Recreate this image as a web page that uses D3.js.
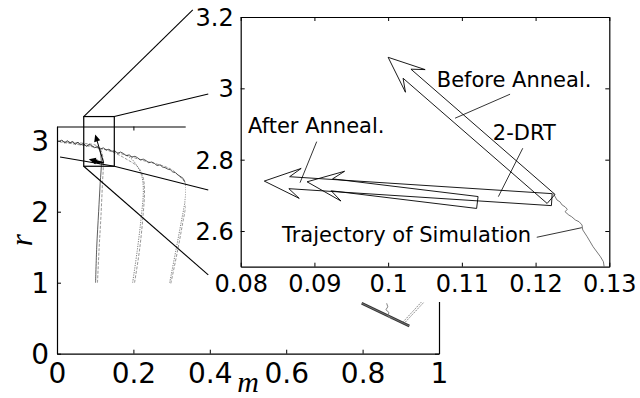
<!DOCTYPE html>
<html>
<head>
<meta charset="utf-8">
<script src="https://cdn.jsdelivr.net/npm/d3@7"></script>
<style>
  body { margin: 0; background: #fff; }
  svg { display: block; }
</style>
</head>
<body>
<svg id="chart" width="640" height="398"></svg>
<script>
// ---------- main panel (m, r) ----------
const mainXTicks = [0, 0.2, 0.4, 0.6, 0.8, 1];
const mainXTickLabels = ["0", "0.2", "0.4", "0.6", "0.8", "1"];
const mainYTicks = [0, 1, 2, 3];
const mainYTickLabels = ["0", "1", "2", "3"];

// theoretical trajectories starting at r = 1
const theory1 = [[0.106,1.00],[0.110,1.46],[0.115,1.93],[0.119,2.40],[0.121,2.66],[0.117,2.84],[0.104,2.93],[0.075,2.96],[0.035,2.98],[0.008,2.99]];
const theory2 = [[0.203,1.00],[0.216,1.46],[0.225,1.93],[0.229,2.31],[0.225,2.49],[0.212,2.63],[0.185,2.73],[0.150,2.83],[0.115,2.89],[0.075,2.94],[0.020,2.98]];
const theory3 = [[0.298,0.99],[0.316,1.46],[0.329,1.84],[0.339,2.16],[0.336,2.40],[0.322,2.49],[0.298,2.60],[0.262,2.67],[0.226,2.72],[0.178,2.80],[0.139,2.86],[0.086,2.92],[0.008,2.98]];

// simulated trajectories
const sim1 = [[0.101,1.00],[0.104,1.50],[0.109,2.00],[0.113,2.40],[0.116,2.70],[0.112,2.86],[0.106,2.91]];
const sim2 = [[0.198,1.00],[0.210,1.45],[0.220,1.90],[0.226,2.30],[0.222,2.50],[0.210,2.64],[0.196,2.74],[0.181,2.80]];
const sim3 = [[0.295,1.00],[0.311,1.45],[0.325,1.85],[0.335,2.15],[0.337,2.35],[0.335,2.42]];
// common noisy branch of the simulations
const simBranch = [
  [0.335,2.42],[0.330,2.47],[0.322,2.50],[0.316,2.52],[0.310,2.55],[0.303,2.56],[0.297,2.59],
  [0.290,2.60],[0.283,2.62],[0.276,2.63],[0.270,2.66],[0.262,2.65],[0.255,2.68],[0.248,2.70],
  [0.240,2.69],[0.233,2.72],[0.226,2.74],[0.218,2.73],[0.211,2.76],[0.204,2.78],[0.196,2.77],
  [0.189,2.80],[0.181,2.79],[0.174,2.82],[0.166,2.84],[0.159,2.82],[0.151,2.86],[0.144,2.85],
  [0.136,2.88],[0.129,2.87],[0.121,2.90],[0.114,2.88],[0.106,2.92],[0.099,2.90],[0.091,2.93],
  [0.084,2.95],[0.077,2.92],[0.069,2.96],[0.062,2.94],[0.055,2.98],[0.048,2.95],[0.041,2.99],
  [0.034,2.97],[0.027,3.00],[0.020,2.97],[0.013,3.01],[0.007,2.99]
];
const guideLine = [[0.008,2.77],[0.15,2.64]];

// mirrored copy of the annealing vectors near (0.85, 0.5)
const copyBand = [[0.7976,0.710],[0.9223,0.390]];
const copyDashA = [[0.9066,0.451],[0.9547,0.732]];
const copyDashB = [[0.9120,0.446],[0.9610,0.728]];
const copyWiggle = [[0.863,0.71],[0.866,0.66],[0.861,0.62],[0.869,0.58],[0.866,0.53],[0.876,0.49]];

// ---------- magnified region ----------
const insetXTicks = [0.08, 0.09, 0.10, 0.11, 0.12, 0.13];
const insetXTickLabels = ["0.08", "0.09", "0.1", "0.11", "0.12", "0.13"];
const insetYTicks = [2.6, 2.8, 3.0, 3.2];
const insetYTickLabels = ["2.6", "2.8", "3", "3.2"];

// vectors: [from, to] in (m, r)
const beforeAnneal = [[0.1221,2.690],[0.1000,3.087]];
const drtLong = [[0.1222,2.688],[0.0832,2.740]];
const drtShort = [[0.1121,2.680],[0.0890,2.738]];

const insetTrajectory = [
  [0.1224,2.706],[0.1229,2.687],[0.1233,2.682],[0.1236,2.673],[0.1240,2.668],[0.1243,2.661],
  [0.1240,2.654],[0.1245,2.645],[0.1249,2.640],[0.1254,2.631],[0.1259,2.626],[0.1263,2.617],
  [0.1264,2.603],[0.1270,2.584],[0.1278,2.556],[0.1288,2.528],[0.1292,2.514],[0.1293,2.500]
];

const annotations = [
  { text: "Before Anneal.", at: [0.1066,3.003], leader: [[0.11654,2.9836],[0.10908,2.9163]] },
  { text: "2-DRT", at: [0.1142,2.8554], leader: [[0.11826,2.8321],[0.11495,2.6964]] },
  { text: "After Anneal.", at: [0.0810,2.8742], leader: [[0.09031,2.8506],[0.08805,2.7356]] },
  { text: "Trajectory of Simulation", at: [0.0856,2.5693], leader: [[0.12016,2.5825],[0.12627,2.6094]] }
];

// zoom box (main coords) and where its edges lead (magnified coords)
const zoomBoxM = [0.07, 0.15];
const zoomBoxR = [2.64, 3.34];
const connectorEnds = [[0.0735,3.220],[0.0756,2.984],[0.0756,2.715],[0.0756,2.477]];

// ---------- drawing ----------
const svg = d3.select("#chart");
const FONT = "DejaVu Sans";

const xMain = d3.scaleLinear().domain([0, 1]).range([57, 439]);
const yMain = d3.scaleLinear().domain([0, 3.2]).range([353.7, 126.5]);
const xIn = d3.scaleLinear().domain([0.08, 0.13]).range([240.7, 609.3]);
const yIn = d3.scaleLinear().domain([2.5, 3.2]).range([266.7, 17]);

const path = (sx, sy, curve) => d3.line().x(d => sx(d[0])).y(d => sy(d[1])).curve(curve || d3.curveLinear);

function styleAxis(g, size) {
  g.attr("font-family", FONT).attr("font-size", size).attr("color", "#000");
  g.selectAll(".domain").attr("stroke-width", 1.2);
  g.selectAll(".tick line").attr("stroke-width", 1);
}

// main axes frame with inward ticks
const gMain = svg.append("g");
gMain.append("g").attr("transform", `translate(0,${yMain(0)})`)
  .call(d3.axisBottom(xMain).tickValues(mainXTicks).tickFormat((d, i) => mainXTickLabels[i])
    .tickSizeInner(-4).tickSizeOuter(0).tickPadding(9))
  .call(g => styleAxis(g, 28));
gMain.append("g").attr("transform", `translate(${xMain(0)},0)`)
  .call(d3.axisLeft(yMain).tickValues(mainYTicks).tickFormat((d, i) => mainYTickLabels[i])
    .tickSizeInner(-4).tickSizeOuter(0).tickPadding(8))
  .call(g => styleAxis(g, 28))
  .call(g => g.selectAll("text").attr("dy", "0.36em"));
gMain.append("g").attr("transform", `translate(0,${yMain(3.2)})`)
  .call(d3.axisTop(xMain).tickValues(mainXTicks).tickFormat("").tickSizeInner(-4).tickSizeOuter(0))
  .call(g => styleAxis(g, 28));
gMain.append("g").attr("transform", `translate(${xMain(1)},0)`)
  .call(d3.axisRight(yMain).tickValues(mainYTicks).tickFormat("").tickSizeInner(-4).tickSizeOuter(0))
  .call(g => styleAxis(g, 28));

// axis titles
gMain.append("text")
  .attr("transform", `translate(32,${(yMain(0) + yMain(3.2)) / 2}) rotate(-90)`)
  .attr("text-anchor", "middle")
  .attr("font-family", "Liberation Serif").attr("font-style", "italic").attr("font-size", 31)
  .text("r");
gMain.append("text")
  .attr("x", (xMain(0) + xMain(1)) / 2).attr("y", 392)
  .attr("text-anchor", "middle")
  .attr("font-family", "Liberation Serif").attr("font-style", "italic").attr("font-size", 30)
  .text("m");

// trajectories
const smoothMain = path(xMain, yMain, d3.curveCatmullRom.alpha(0.5));
const linMain = path(xMain, yMain);
[theory1, theory2, theory3].forEach(t => {
  gMain.append("path").attr("d", smoothMain(t)).attr("fill", "none")
    .attr("stroke", "#8c8c8c").attr("stroke-width", 0.9).attr("stroke-dasharray", "3,1.5");
});
[sim2, sim3].forEach(t => {
  gMain.append("path").attr("d", smoothMain(t)).attr("fill", "none")
    .attr("stroke", "#6e6e6e").attr("stroke-width", 0.9).attr("stroke-dasharray", "1.2,1.2");
});
gMain.append("path").attr("d", smoothMain(sim1)).attr("fill", "none")
  .attr("stroke", "#333").attr("stroke-width", 0.8);
gMain.append("path").attr("d", linMain(simBranch)).attr("fill", "none")
  .attr("stroke", "#2a2a2a").attr("stroke-width", 0.8);
gMain.append("path").attr("d", linMain(guideLine)).attr("fill", "none")
  .attr("stroke", "#000").attr("stroke-width", 1.1);

// small arrows with filled heads
function lineArrow(g, v, sx, sy, width, head) {
  const x0 = sx(v[0][0]), y0 = sy(v[0][1]), x1 = sx(v[1][0]), y1 = sy(v[1][1]);
  const L = Math.hypot(x1 - x0, y1 - y0), ux = (x1 - x0) / L, uy = (y1 - y0) / L;
  const nx = -uy, ny = ux;
  g.append("line").attr("x1", x0).attr("y1", y0).attr("x2", x1 - ux * head * 0.6).attr("y2", y1 - uy * head * 0.6)
    .attr("stroke", "#000").attr("stroke-width", width);
  const bx = x1 - ux * head, by = y1 - uy * head, hw = head * 0.45;
  g.append("path").attr("d", `M${x1},${y1}L${bx + nx * hw},${by + ny * hw}L${bx - nx * hw},${by - ny * hw}Z`)
    .attr("fill", "#000");
}
lineArrow(gMain, beforeAnneal, xMain, yMain, 1, 7);
lineArrow(gMain, drtLong, xMain, yMain, 2, 7);
lineArrow(gMain, drtShort, xMain, yMain, 2, 6);

// mirrored copy near the bottom right
gMain.append("path").attr("d", linMain(copyBand)).attr("stroke", "#333").attr("stroke-width", 2.6).attr("fill", "none");
gMain.append("path").attr("d", linMain(copyBand)).attr("stroke", "#999").attr("stroke-width", 0.6).attr("fill", "none");
[copyDashA, copyDashB].forEach(t => {
  gMain.append("path").attr("d", linMain(t)).attr("stroke", "#777").attr("stroke-width", 0.9)
    .attr("stroke-dasharray", "1.5,1").attr("fill", "none");
});
gMain.append("path").attr("d", linMain(copyWiggle)).attr("stroke", "#777").attr("stroke-width", 0.9).attr("fill", "none");

// zoom box
gMain.append("rect")
  .attr("x", xMain(zoomBoxM[0])).attr("y", yMain(zoomBoxR[1]))
  .attr("width", xMain(zoomBoxM[1]) - xMain(zoomBoxM[0]))
  .attr("height", yMain(zoomBoxR[0]) - yMain(zoomBoxR[1]))
  .attr("fill", "none").attr("stroke", "#000").attr("stroke-width", 1.2);

// ---------- magnified panel ----------
const gIn = svg.append("g");
gIn.append("rect")
  .attr("x", xIn.range()[0] - 55).attr("y", 0)
  .attr("width", 640 - (xIn.range()[0] - 55)).attr("height", yIn.range()[0] + 35.3)
  .attr("fill", "#fff");

gIn.append("g").attr("transform", `translate(0,${yIn(2.5)})`)
  .call(d3.axisBottom(xIn).tickValues(insetXTicks).tickFormat((d, i) => insetXTickLabels[i])
    .tickSizeInner(-4).tickSizeOuter(0).tickPadding(8.3))
  .call(g => styleAxis(g, 24));
gIn.append("g").attr("transform", `translate(${xIn(0.08)},0)`)
  .call(d3.axisLeft(yIn).tickValues(insetYTicks).tickFormat((d, i) => insetYTickLabels[i])
    .tickSizeInner(-4).tickSizeOuter(0).tickPadding(7))
  .call(g => styleAxis(g, 24))
  .call(g => g.selectAll("text").attr("dy", "0.36em"));
gIn.append("g").attr("transform", `translate(0,${yIn(3.2)})`)
  .call(d3.axisTop(xIn).tickValues(insetXTicks).tickFormat("").tickSizeInner(-4).tickSizeOuter(0))
  .call(g => styleAxis(g, 24));
gIn.append("g").attr("transform", `translate(${xIn(0.13)},0)`)
  .call(d3.axisRight(yIn).tickValues(insetYTicks).tickFormat("").tickSizeInner(-4).tickSizeOuter(0))
  .call(g => styleAxis(g, 24));

// trajectory of simulation
gIn.append("path").attr("d", path(xIn, yIn)(insetTrajectory)).attr("fill", "none")
  .attr("stroke", "#555").attr("stroke-width", 0.8);

// hollow block arrows
function hollowArrow(g, v) {
  const x0 = xIn(v[0][0]), y0 = yIn(v[0][1]), x1 = xIn(v[1][0]), y1 = yIn(v[1][1]);
  const L = Math.hypot(x1 - x0, y1 - y0), ux = (x1 - x0) / L, uy = (y1 - y0) / L;
  const nx = -uy, ny = ux;
  const shaft = 6, neck = 25, headLen = 36, headHalf = 15;
  const pt = (d, w) => [x1 - ux * d + nx * w, y1 - uy * d + ny * w];
  const pts = [
    [x0 + nx * shaft, y0 + ny * shaft], pt(neck, shaft), pt(headLen, headHalf), [x1, y1],
    pt(headLen, -headHalf), pt(neck, -shaft), [x0 - nx * shaft, y0 - ny * shaft]
  ];
  g.append("path").attr("d", "M" + pts.map(p => p.join(",")).join("L") + "Z")
    .attr("fill", "none").attr("stroke", "#000").attr("stroke-width", 0.9);
}
hollowArrow(gIn, beforeAnneal);
hollowArrow(gIn, drtLong);
hollowArrow(gIn, drtShort);

// annotations
annotations.forEach(a => {
  gIn.append("path").attr("d", path(xIn, yIn)(a.leader)).attr("stroke", "#000").attr("stroke-width", 0.8);
  gIn.append("text").attr("x", xIn(a.at[0])).attr("y", yIn(a.at[1]))
    .attr("font-family", FONT).attr("font-size", 21).attr("fill", "#000").text(a.text);
});

// connectors from zoom box corners
const boxCorners = [[zoomBoxM[0], zoomBoxR[1]], [zoomBoxM[1], zoomBoxR[1]], [zoomBoxM[1], zoomBoxR[0]], [zoomBoxM[0], zoomBoxR[0]]];
boxCorners.forEach((c, i) => {
  svg.append("line")
    .attr("x1", xMain(c[0])).attr("y1", yMain(c[1]))
    .attr("x2", xIn(connectorEnds[i][0])).attr("y2", yIn(connectorEnds[i][1]))
    .attr("stroke", "#000").attr("stroke-width", 1.1);
});
</script>
</body>
</html>
